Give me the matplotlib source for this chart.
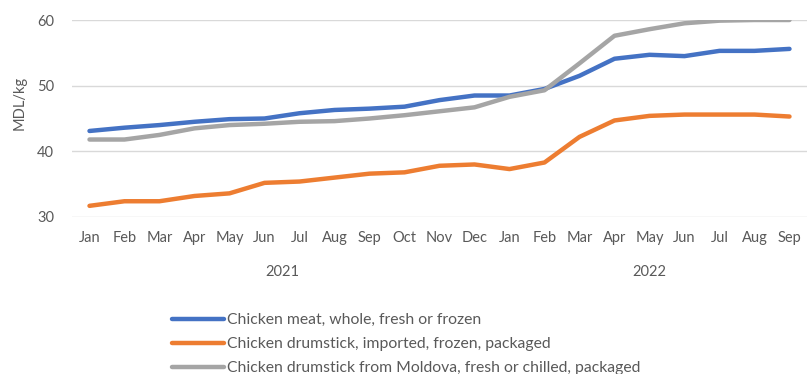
import numpy as np
import matplotlib
matplotlib.use("Agg")
import matplotlib.pyplot as plt
from matplotlib import transforms

# monthly prices, Jan 2021 .. Sep 2022
months = ["Jan", "Feb", "Mar", "Apr", "May", "Jun", "Jul", "Aug", "Sep", "Oct", "Nov", "Dec",
          "Jan", "Feb", "Mar", "Apr", "May", "Jun", "Jul", "Aug", "Sep"]
years = ["2021", "2022"]
year_span = [(0, 11), (12, 20)]

whole = [43.1, 43.6, 44.0, 44.5, 44.9, 45.0, 45.8, 46.3, 46.5, 46.8, 47.8, 48.5,
         48.5, 49.5, 51.5, 54.1, 54.7, 54.5, 55.3, 55.3, 55.6]
imported = [31.7, 32.4, 32.4, 33.2, 33.6, 35.2, 35.4, 36.0, 36.6, 36.8, 37.8, 38.0,
            37.3, 38.3, 42.2, 44.7, 45.4, 45.6, 45.6, 45.6, 45.3]
moldova = [41.8, 41.8, 42.5, 43.5, 44.0, 44.2, 44.5, 44.6, 45.0, 45.5, 46.1, 46.7,
           48.3, 49.3, 53.4, 57.6, 58.6, 59.5, 59.9, 60.0, 60.0]

labels = ["Chicken meat, whole, fresh or frozen",
          "Chicken drumstick, imported, frozen, packaged",
          "Chicken drumstick from Moldova, fresh or chilled, packaged"]
colors = ["#4472C4", "#ED7D31", "#A5A5A5"]

plt.rcParams['font.family'] = ['Lato', 'DejaVu Sans']
txt = "#595959"

fig = plt.figure(figsize=(8.07, 3.74), dpi=100)
W, H = 807, 374
ax = fig.add_axes([72 / W, 1 - 217 / H, (807 - 72) / W, (217 - 20) / H])

x = np.arange(len(months))
for ys, c, lab in zip([whole, imported, moldova], colors, labels):
    ax.plot(x, ys, color=c, lw=3.2, label=lab, solid_capstyle="round", solid_joinstyle="round")

ax.set_xlim(-0.5, len(months) - 0.5)
ax.set_ylim(30, 60)
ax.set_yticks([30, 40, 50, 60])
ax.grid(axis="y", color="#D9D9D9", lw=1.0)
ax.set_axisbelow(True)
for s in ax.spines.values():
    s.set_visible(False)
ax.set_xticks(x)
ax.set_xticklabels(months)
ax.tick_params(axis="x", length=0, pad=10, labelsize=10.5, labelcolor=txt)
ax.tick_params(axis="y", length=0, pad=13, labelsize=10.5, labelcolor=txt)

# year labels under the month labels
trans = transforms.blended_transform_factory(ax.transData, fig.transFigure)
for yr, (a, b) in zip(years, year_span):
    ax.text((a + b) / 2, 1 - 272 / H, yr, transform=trans, ha="center", va="center",
            fontsize=10.5, color=txt)

fig.text(20 / W, 1 - 103 / H, "MDL/kg", rotation=90, ha="center", va="center",
         fontsize=10.5, color=txt)

leg = fig.legend(loc="upper left", bbox_to_anchor=(166 / W, 1 - 307 / H), frameon=False,
                 fontsize=11.3, handlelength=3.3, handletextpad=0.2, labelspacing=0.64,
                 labelcolor=txt, borderaxespad=0)

fig.savefig("out.png", dpi=100)
